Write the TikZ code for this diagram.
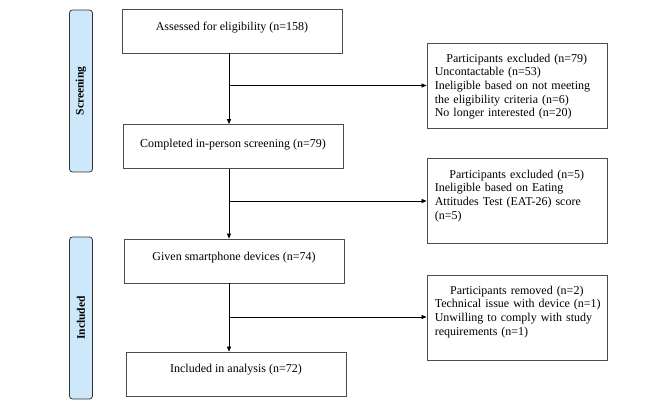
\documentclass[tikz,border=0pt]{standalone}
\usepackage{fontspec}
\setmainfont{Liberation Serif}
\usetikzlibrary{arrows.meta}
\definecolor{barblue}{RGB}{204,232,250}
\begin{document}
\begin{tikzpicture}[x=1pt,y=-1pt,
  font=\fontsize{12}{13.7}\selectfont,
  mbox/.style={draw=black!70, line width=0.8pt, minimum width=220pt, minimum height=44pt, inner sep=0pt},
  rbox/.style={draw=black!70, line width=0.8pt, minimum width=180pt, minimum height=85pt, inner sep=0pt},
  sidebar/.style={draw=black!80, fill=barblue, rounded corners=3pt, line width=0.8pt, minimum width=23pt, inner sep=0pt},
  rtext/.style={anchor=north west, text width=170pt, align=left, inner sep=0pt},
  arr/.style={line width=0.7pt, -{Triangle[length=5pt,width=4pt]}},
  ln/.style={line width=0.7pt}]
\useasboundingbox (0,0) rectangle (661,406);
% side bars
\node[sidebar, minimum height=162pt] (sb1) at (81,91) {};
\node[rotate=90, font=\fontsize{11.5}{13}\selectfont\bfseries] (sb1t) at (sb1.center) {Screening};
\node[sidebar, minimum height=162pt] (sb2) at (81,318) {};
\node[rotate=90, font=\fontsize{11.5}{13}\selectfont\bfseries] (sb2t) at (sb2.center) {Included};
% main boxes
\node[mbox] (b1) at (232,31) {};
\node (b1t) at (232,27.5) {Assessed for eligibility (n=158)};
\node[mbox] (b2) at (233,146.5) {};
\node (b2t) at (233,144.5) {Completed in-person screening (n=79)};
\node[mbox] (b3) at (234,261) {};
\node (b3t) at (234,257.5) {Given smartphone devices (n=74)};
\node[mbox] (b4) at (236,374) {};
\node (b4t) at (236,369.5) {Included in analysis (n=72)};
% right boxes
\node[rbox] (r1) at (517,85.5) {};
\node[rtext] (r1t) at ([xshift=8pt,yshift=-11pt]r1.north west) {\makebox[164pt]{Participants excluded (n=79)}\\Uncontactable (n=53)\\Ineligible based on not meeting\\the eligibility criteria (n=6)\\No longer interested (n=20)};
\node[rbox] (r2) at (517,200.5) {};
\node[rtext] (r2t) at ([xshift=8pt,yshift=-12pt]r2.north west) {\makebox[164pt]{Participants excluded (n=5)}\\Ineligible based on Eating\\Attitudes Test (EAT-26) score\\(n=5)};
\node[rbox] (r3) at (517,317.5) {};
\node[rtext] (r3t) at ([xshift=8pt,yshift=-11pt]r3.north west) {\makebox[164pt]{Participants removed (n=2)}\\Technical issue with device (n=1)\\Unwilling to comply with study\\requirements (n=1)};
% connectors
\coordinate (sx) at (229,0);
\coordinate (j1) at (229,85.5);
\coordinate (j2) at (229,201);
\coordinate (j3) at (229,317);
\draw[arr] (b1.south -| sx) -- (b2.north -| sx);
\draw[arr] (b2.south -| sx) -- (b3.north -| sx);
\draw[arr] (b3.south -| sx) -- (b4.north -| sx);
\draw[arr] (j1) -- (j1 -| r1.west);
\draw[arr] (j2) -- (j2 -| r2.west);
\draw[arr] (j3) -- (j3 -| r3.west);
\end{tikzpicture}
\end{document}
